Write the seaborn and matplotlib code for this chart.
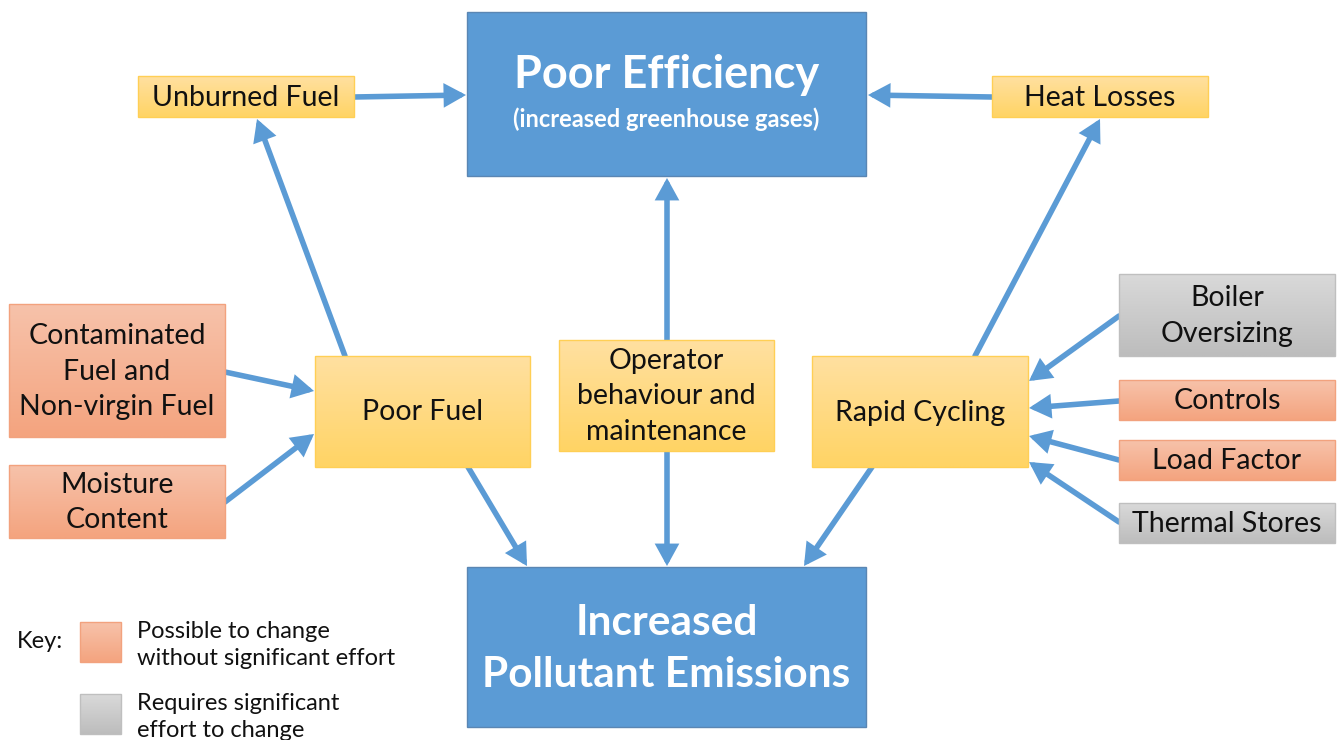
import numpy as np
import matplotlib
matplotlib.use("Agg")
import matplotlib.pyplot as plt
from matplotlib.patches import Rectangle, FancyArrowPatch
import seaborn as sns

sns.set_theme(style="white")
plt.rcParams['font.family'] = ['Lato', 'DejaVu Sans']

# node labels
outcome_labels = ["Poor Efficiency", "Increased\nPollutant Emissions"]
outcome_sub = "(increased greenhouse gases)"
cause_labels = ["Unburned Fuel", "Heat Losses", "Poor Fuel",
                "Operator\nbehaviour and\nmaintenance", "Rapid Cycling"]
easy_labels = ["Contaminated\nFuel and\nNon-virgin Fuel", "Moisture\nContent",
               "Controls", "Load Factor"]
hard_labels = ["Boiler\nOversizing", "Thermal Stores"]
key_labels = ["Possible to change\nwithout significant effort",
              "Requires significant\neffort to change"]

# links (source -> target)
links = [("Unburned Fuel", "Poor Efficiency"),
         ("Heat Losses", "Poor Efficiency"),
         ("Operator", "Poor Efficiency"),
         ("Operator", "Pollutant Emissions"),
         ("Poor Fuel", "Unburned Fuel"),
         ("Rapid Cycling", "Heat Losses"),
         ("Poor Fuel", "Pollutant Emissions"),
         ("Rapid Cycling", "Pollutant Emissions"),
         ("Contaminated Fuel", "Poor Fuel"),
         ("Moisture Content", "Poor Fuel"),
         ("Boiler Oversizing", "Rapid Cycling"),
         ("Controls", "Rapid Cycling"),
         ("Load Factor", "Rapid Cycling"),
         ("Thermal Stores", "Rapid Cycling")]

# layout in pixel space: x0, y0, x1, y1
layout = {
    "Poor Efficiency": (467, 12, 866, 176),
    "Increased\nPollutant Emissions": (467, 567, 866, 727),
    "Unburned Fuel": (138, 76, 354, 117),
    "Heat Losses": (992, 76, 1208, 117),
    "Poor Fuel": (315, 356, 530, 467),
    "Operator\nbehaviour and\nmaintenance": (559, 340, 774, 451),
    "Rapid Cycling": (812, 356, 1028, 467),
    "Contaminated\nFuel and\nNon-virgin Fuel": (9, 304, 225, 437),
    "Moisture\nContent": (9, 465, 225, 538),
    "Boiler\nOversizing": (1119, 274, 1335, 356),
    "Controls": (1119, 380, 1335, 420),
    "Load Factor": (1119, 440, 1335, 480),
    "Thermal Stores": (1119, 503, 1335, 543),
}
# arrow anchor points (start, end), one per link
anchors = [((354, 97), (466, 95)), ((992, 97), (868, 95)),
           ((667, 340), (667, 178)), ((667, 451), (667, 566)),
           ((345, 356), (257, 119)), ((975, 356), (1100, 119)),
           ((468, 467), (527, 566)), ((872, 467), (804, 566)),
           ((225, 372), (314, 391)), ((225, 502), (314, 434)),
           ((1119, 316), (1029, 381)), ((1119, 401), (1029, 408)),
           ((1119, 460), (1029, 436)), ((1119, 522), (1029, 462))]

blue = "#5B9BD5"
grad = {"cause": (sns.blend_palette(["#FFE0A0", "#FFD465"], 32), "#FFCF55"),
        "easy": (sns.blend_palette(["#F7C2AA", "#F4A47F"], 32), "#F2A27E"),
        "hard": (sns.blend_palette(["#D9D9D9", "#BDBDBD"], 32), "#BFBFBF")}

fig = plt.figure(figsize=(13.41, 7.40), dpi=100)
ax = fig.add_axes([0, 0, 1, 1])
ax.set_xlim(0, 1341)
ax.set_ylim(740, 0)
ax.axis("off")


def grad_box(x0, y0, x1, y1, kind):
    cols, edge = grad[kind]
    img = np.array(cols)[:, None, :]
    ax.imshow(img, extent=(x0, x1, y1, y0), aspect="auto", interpolation="bilinear", zorder=2)
    ax.add_patch(Rectangle((x0, y0), x1 - x0, y1 - y0, fill=False, ec=edge, lw=1, zorder=3))


for link, (p0, p1) in zip(links, anchors):
    ax.add_patch(FancyArrowPatch(p0, p1, arrowstyle="-|>,head_width=0.55,head_length=1.0",
                                 mutation_scale=10, color=blue, lw=4,
                                 shrinkA=0, shrinkB=0, joinstyle="miter", zorder=1))

# outcome boxes
for lab in outcome_labels:
    x0, y0, x1, y1 = layout[lab]
    ax.add_patch(Rectangle((x0, y0), x1 - x0, y1 - y0, fc=blue, ec="#5A86B3", lw=1, zorder=2))
cx = (layout["Poor Efficiency"][0] + layout["Poor Efficiency"][2]) / 2
ax.text(cx, 75, outcome_labels[0], ha="center", va="center", color="white",
        fontsize=32.5, fontweight="bold", zorder=4)
ax.text(cx, 119, outcome_sub, ha="center", va="center", color="white",
        fontsize=17, fontweight="bold", zorder=4)
ax.text(cx, 649, outcome_labels[1], ha="center", va="center", color="white",
        fontsize=30.5, fontweight="bold", linespacing=1.45, zorder=4)

for kind, labs in (("cause", cause_labels), ("easy", easy_labels), ("hard", hard_labels)):
    for lab in labs:
        x0, y0, x1, y1 = layout[lab]
        grad_box(x0, y0, x1, y1, kind)
        ax.text((x0 + x1) / 2, (y0 + y1) / 2 + 1, lab, ha="center", va="center",
                fontsize=20.5, color="#111111", linespacing=1.45, zorder=4)

# key
ax.text(17, 642, "Key:", ha="left", va="center", fontsize=17, color="#111111")
for j, (lab, kind) in enumerate(zip(key_labels, ["easy", "hard"])):
    y0 = 622 + j * 72
    grad_box(80, y0, 121, y0 + 40, kind)
    ax.text(137, y0 + 23, lab, ha="left", va="center", fontsize=17,
            color="#111111", linespacing=1.32)

fig.savefig("out.png", dpi=100)
